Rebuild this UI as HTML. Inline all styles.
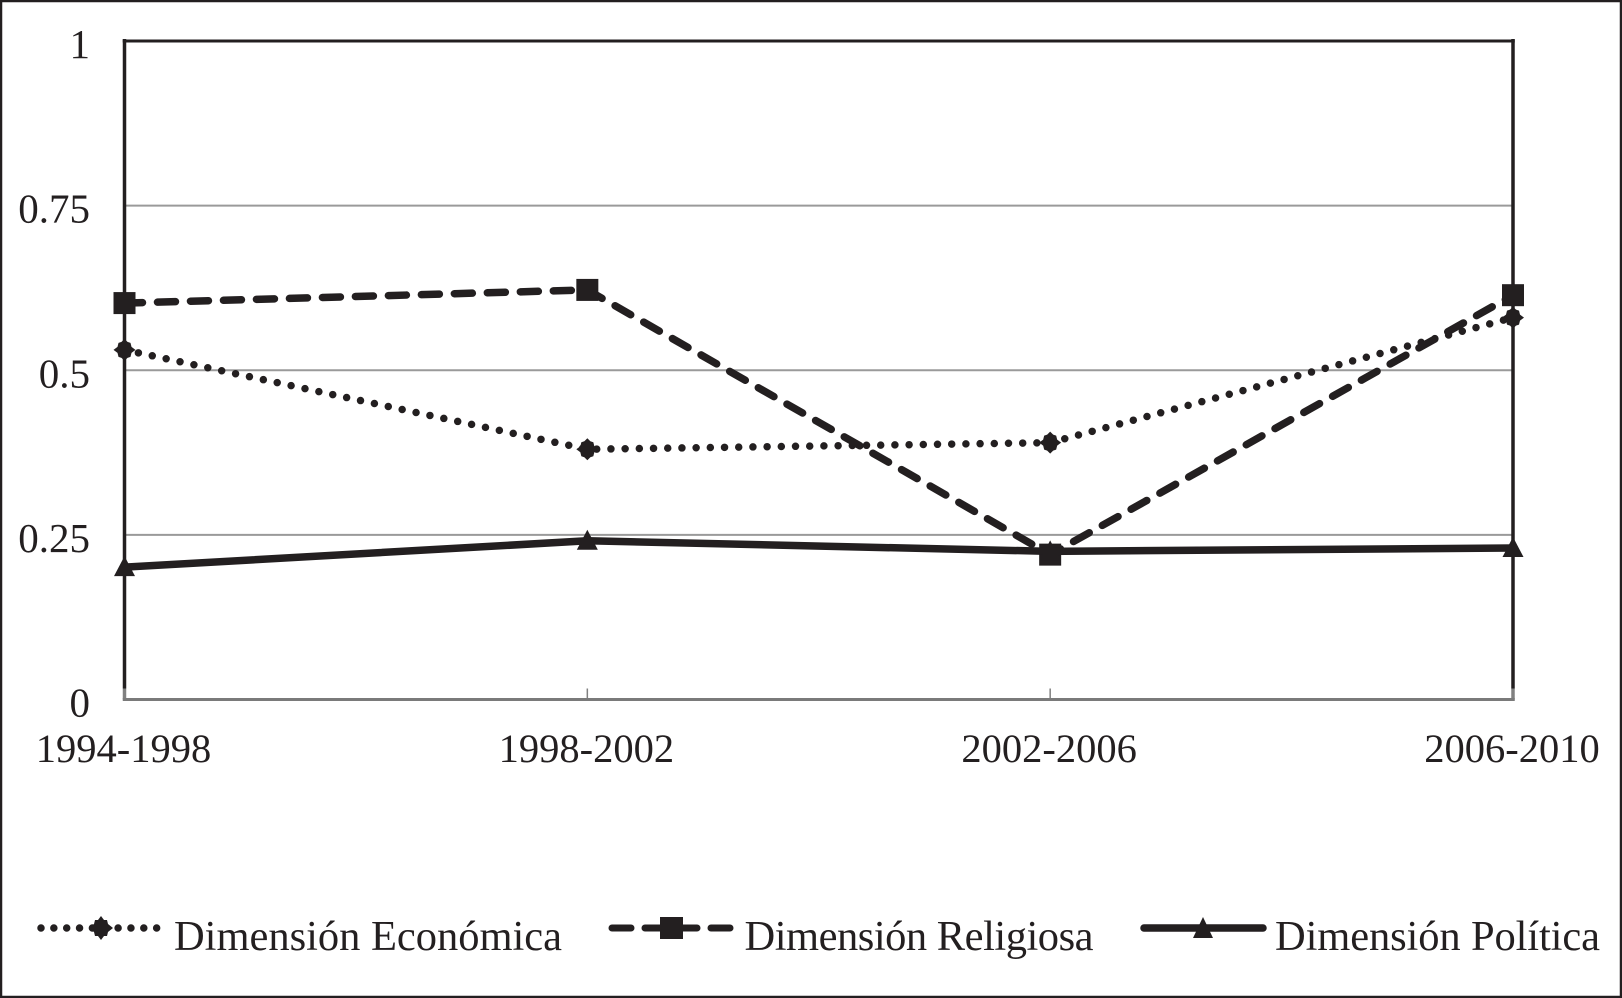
<!DOCTYPE html>
<html lang="es">
<head>
<meta charset="utf-8">
<title>Dimensiones 1994-2010</title>
<style>
html,body{margin:0;padding:0;background:#fff;}
svg{display:block;}
text{font-family:"Liberation Serif",serif;fill:#231f20;}
</style>
</head>
<body>
<svg id="chart" xmlns="http://www.w3.org/2000/svg" width="1622" height="998" viewBox="0 0 1622 998">
  <rect x="0" y="0" width="1622" height="998" fill="#fff"/>
  <g id="plot"></g>
  <g>
    <g>
      <line x1="41" y1="928" x2="157.5" y2="928" stroke="#231f20" stroke-width="7.5" stroke-linecap="round" stroke-dasharray="0 12.85"/>
      <path transform="translate(101 928)" d="M0,-12 L3,-8 L6,-8 L7,-4 L12,0 L7,4 L6,8 L3,8 L0,12 L-3,8 L-6,8 L-7,4 L-12,0 L-7,-4 L-6,-8 L-3,-8 Z" fill="#231f20"/>
      <text x="174" y="950" font-size="42.5" textLength="388">Dimensión Económica</text>
    </g>
    <g>
      <line x1="612" y1="928" x2="731" y2="928" stroke="#231f20" stroke-width="7" stroke-linecap="round" stroke-dasharray="19 14"/>
      <rect x="660" y="917" width="23" height="22" fill="#231f20"/>
      <text x="744.5" y="950" font-size="42.5" textLength="349">Dimensión Religiosa</text>
    </g>
    <g>
      <line x1="1144" y1="928" x2="1263" y2="928" stroke="#231f20" stroke-width="7.5" stroke-linecap="round"/>
      <path d="M1203,917 L1213,938 L1193,938 Z" fill="#231f20"/>
      <text x="1275" y="950" font-size="42.5" textLength="325">Dimensión Política</text>
    </g>
  </g>
  <rect x="1" y="1" width="1620" height="996" fill="none" stroke="#231f20" stroke-width="2.5"/>
</svg>
<script>
const categories = ["1994-1998", "1998-2002", "2002-2006", "2006-2010"];
const yTicks = [0, 0.25, 0.5, 0.75, 1];
const yTickLabels = ["0", "0.25", "0.5", "0.75", "1"];
const economica = [0.531, 0.38, 0.39, 0.58];
const religiosa = [0.602, 0.622, 0.22, 0.614];
const politica = [0.201, 0.241, 0.225, 0.23];

const NS = "http://www.w3.org/2000/svg";
const plot = document.getElementById("plot");
const left = 124.5, right = 1513, top_ = 41, bottom = 699.5;
const INK = "#231f20";

function xPos(i) { return left + (right - left) * i / (categories.length - 1); }
function yPos(v) { return bottom - (bottom - top_) * v; }
function make(tag, attrs, parent) {
  const el = document.createElementNS(NS, tag);
  for (const k in attrs) el.setAttribute(k, attrs[k]);
  (parent || plot).appendChild(el);
  return el;
}

// horizontal gridlines
yTicks.forEach(function (t) {
  if (t === 0 || t === 1) return;
  const g = make("line", { x1: left, x2: right, y1: yPos(t), y2: yPos(t), stroke: "#9a9a9a", "stroke-width": 2 });
  
  
});

// x ticks
categories.forEach(function (c, i) {
  const t = make("line", { x1: xPos(i), x2: xPos(i), y1: bottom - 11, y2: bottom, stroke: "#808080", "stroke-width": i === 0 || i === categories.length - 1 ? 3.5 : 1.5 });
  
  
});

// plot frame
const axisLeft = make("line", { x1: left, x2: left, y1: top_ - 2, y2: bottom - 11, stroke: INK, "stroke-width": 3.5 });


const axisRight = make("line", { x1: right, x2: right, y1: top_ - 2, y2: bottom - 11, stroke: INK, "stroke-width": 3.5 });


const axisTop = make("line", { x1: left - 1.75, x2: right + 1.75, y1: top_, y2: top_, stroke: INK, "stroke-width": 3 });


const axisBottom = make("line", { x1: left - 1.75, x2: right + 1.75, y1: bottom, y2: bottom, stroke: "#7a7a7a", "stroke-width": 3 });



// y tick labels
yTicks.forEach(function (t, i) {
  const el = make("text", { x: 90, y: yPos(t) + 17, "text-anchor": "end", "font-size": 41 });
  
  
  el.textContent = yTickLabels[i];
});

// x tick labels
categories.forEach(function (c, i) {
  const el = make("text", { x: xPos(i) - 1, y: 762, "text-anchor": "middle", "font-size": 40.5 });
  
  
  el.textContent = c;
});

function linePath(values) {
  return values.map(function (v, i) { return (i ? "L" : "M") + xPos(i) + "," + yPos(v); }).join(" ");
}

// Económica (dotted)
const lineEco = make("path", { d: linePath(economica), fill: "none", stroke: INK, "stroke-width": 7.5, "stroke-linecap": "round", "stroke-dasharray": "0 14.2" });


economica.forEach(function (v, i) {
  const m = make("path", { transform: "translate(" + xPos(i) + " " + yPos(v) + ")", d: "M0,-11 L3,-8 L6,-7 L7,-3 L11,0 L7,3 L6,7 L3,8 L0,11 L-3,8 L-6,7 L-7,3 L-11,0 L-7,-3 L-6,-7 L-3,-8 Z", fill: INK });
  
  
});

// Religiosa (dashed)
const lineRel = make("path", { d: linePath(religiosa), fill: "none", stroke: INK, "stroke-width": 7.5, "stroke-linecap": "round", "stroke-dasharray": "18 15" });


religiosa.forEach(function (v, i) {
  const m = make("rect", { x: xPos(i) - 11, y: yPos(v) - 11, width: 22, height: 22, fill: INK });
  
  
});

// Política (solid)
const linePol = make("path", { d: linePath(politica), fill: "none", stroke: INK, "stroke-width": 7.5 });


politica.forEach(function (v, i) {
  const m = make("path", { transform: "translate(" + xPos(i) + " " + yPos(v) + ")", d: "M0,-11 L10.5,9 L-10.5,9 Z", fill: INK });
  
  
});
</script>
</body>
</html>
